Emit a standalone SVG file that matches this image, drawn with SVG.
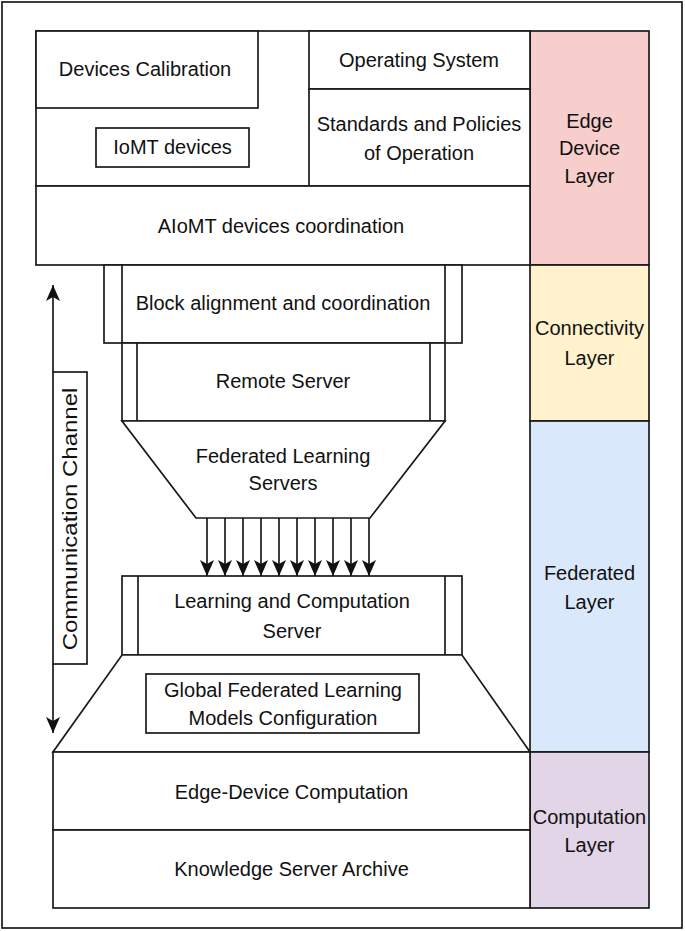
<svg xmlns="http://www.w3.org/2000/svg" width="685" height="931" viewBox="0 0 685 931">
  <style>
    .b { fill: #ffffff; stroke: #1a1a1a; stroke-width: 1.7; }
    .l { fill: none; stroke: #1a1a1a; stroke-width: 1.7; }
    .t { font-family: "Liberation Sans", Arial, Helvetica, sans-serif; font-size: 20px; fill: #111111; text-anchor: middle; }
  </style>
  <defs>
    <marker id="ah" viewBox="0 0 16 14" refX="16" refY="7" markerWidth="16" markerHeight="14" markerUnits="userSpaceOnUse" orient="auto-start-reverse">
      <path d="M0,0 L16,7 L0,14 L4,7 z" fill="#111111"/>
    </marker>
  </defs>
  <rect x="2" y="2" width="680" height="926" fill="#ffffff" stroke="#1a1a1a" stroke-width="1.7"/>

  <g id="layer-edge">
    <rect class="b" x="530" y="31" width="119" height="234" style="fill:#f8cecc"/>
    <text class="t" x="589.5" y="128">Edge</text>
    <text class="t" x="589.5" y="155">Device</text>
    <text class="t" x="589.5" y="183">Layer</text>
  </g>
  <g id="layer-connectivity">
    <rect class="b" x="530" y="265" width="119" height="156" style="fill:#fff2cc"/>
    <text class="t" x="589.5" y="335">Connectivity</text>
    <text class="t" x="589.5" y="365">Layer</text>
  </g>
  <g id="layer-federated">
    <rect class="b" x="530" y="421" width="119" height="331" style="fill:#dae8fc"/>
    <text class="t" x="589.5" y="580">Federated</text>
    <text class="t" x="589.5" y="609">Layer</text>
  </g>
  <g id="layer-computation">
    <rect class="b" x="530" y="752" width="119" height="156" style="fill:#e1d5e7"/>
    <text class="t" x="589.5" y="824">Computation</text>
    <text class="t" x="589.5" y="852">Layer</text>
  </g>

  <g id="edge-frame">
    <rect class="b" x="36" y="31" width="494" height="155"/>
  </g>
  <g id="devices-calibration">
    <rect class="b" x="36" y="31" width="222" height="77"/>
    <text class="t" x="145" y="76">Devices Calibration</text>
  </g>
  <g id="operating-system">
    <rect class="b" x="309" y="31" width="221" height="58"/>
    <text class="t" x="419" y="67">Operating System</text>
  </g>
  <g id="standards">
    <rect class="b" x="309" y="89" width="221" height="97"/>
    <text class="t" x="419" y="131">Standards and Policies</text>
    <text class="t" x="419" y="160">of Operation</text>
  </g>
  <g id="iomt-devices">
    <rect class="b" x="96" y="128" width="153" height="39"/>
    <text class="t" x="172.5" y="154">IoMT devices</text>
  </g>
  <g id="aiomt-coordination">
    <rect class="b" x="36" y="186" width="494" height="79"/>
    <text class="t" x="281" y="233">AIoMT devices coordination</text>
  </g>

  <g id="block-alignment">
    <rect class="b" x="104" y="265" width="358" height="78"/>
    <line class="l" x1="122" y1="265" x2="122" y2="343"/>
    <line class="l" x1="445" y1="265" x2="445" y2="343"/>
    <text class="t" x="283" y="310">Block alignment and coordination</text>
  </g>
  <g id="remote-server">
    <rect class="b" x="122" y="343" width="323" height="78"/>
    <line class="l" x1="137" y1="343" x2="137" y2="421"/>
    <line class="l" x1="430" y1="343" x2="430" y2="421"/>
    <text class="t" x="283" y="388">Remote Server</text>
  </g>
  <g id="fl-servers">
    <polygon class="b" points="122,421 445,421 370,518 196,518"/>
    <text class="t" x="283" y="463">Federated Learning</text>
    <text class="t" x="283" y="490">Servers</text>
  </g>
  <g id="learning-computation">
    <rect class="b" x="122" y="576" width="340" height="79"/>
    <line class="l" x1="138" y1="576" x2="138" y2="655"/>
    <line class="l" x1="445" y1="576" x2="445" y2="655"/>
    <text class="t" x="292" y="608">Learning and Computation</text>
    <text class="t" x="292" y="638">Server</text>
  </g>
  <g id="global-fl-trapezoid">
    <polygon class="b" points="122,655 462,655 530,752 53,752"/>
  </g>
  <g id="global-fl-config">
    <rect class="b" x="146" y="674" width="273" height="59"/>
    <text class="t" x="283" y="697">Global Federated Learning</text>
    <text class="t" x="283" y="725">Models Configuration</text>
  </g>
  <g id="edge-device-computation">
    <rect class="b" x="53" y="752" width="477" height="78"/>
    <text class="t" x="291.5" y="799">Edge-Device Computation</text>
  </g>
  <g id="knowledge-archive">
    <rect class="b" x="53" y="830" width="477" height="78"/>
    <text class="t" x="291.5" y="876">Knowledge Server Archive</text>
  </g>
  <g id="communication-channel">
    <rect class="b" x="53" y="372" width="34" height="292"/>
    <text class="t" transform="translate(77,519) rotate(-90) scale(1.2,1)" x="0" y="0">Communication Channel</text>
  </g>

  <g id="connectors">
    <line class="l" x1="53" y1="372" x2="53" y2="285" marker-end="url(#ah)"/>
    <line class="l" x1="53" y1="664" x2="53" y2="733" marker-end="url(#ah)"/>
    <line class="l" x1="207" y1="518" x2="207" y2="576" marker-end="url(#ah)"/>
    <line class="l" x1="225" y1="518" x2="225" y2="576" marker-end="url(#ah)"/>
    <line class="l" x1="243" y1="518" x2="243" y2="576" marker-end="url(#ah)"/>
    <line class="l" x1="261" y1="518" x2="261" y2="576" marker-end="url(#ah)"/>
    <line class="l" x1="279" y1="518" x2="279" y2="576" marker-end="url(#ah)"/>
    <line class="l" x1="297" y1="518" x2="297" y2="576" marker-end="url(#ah)"/>
    <line class="l" x1="315" y1="518" x2="315" y2="576" marker-end="url(#ah)"/>
    <line class="l" x1="333" y1="518" x2="333" y2="576" marker-end="url(#ah)"/>
    <line class="l" x1="351" y1="518" x2="351" y2="576" marker-end="url(#ah)"/>
    <line class="l" x1="369" y1="518" x2="369" y2="576" marker-end="url(#ah)"/>
  </g>
</svg>
